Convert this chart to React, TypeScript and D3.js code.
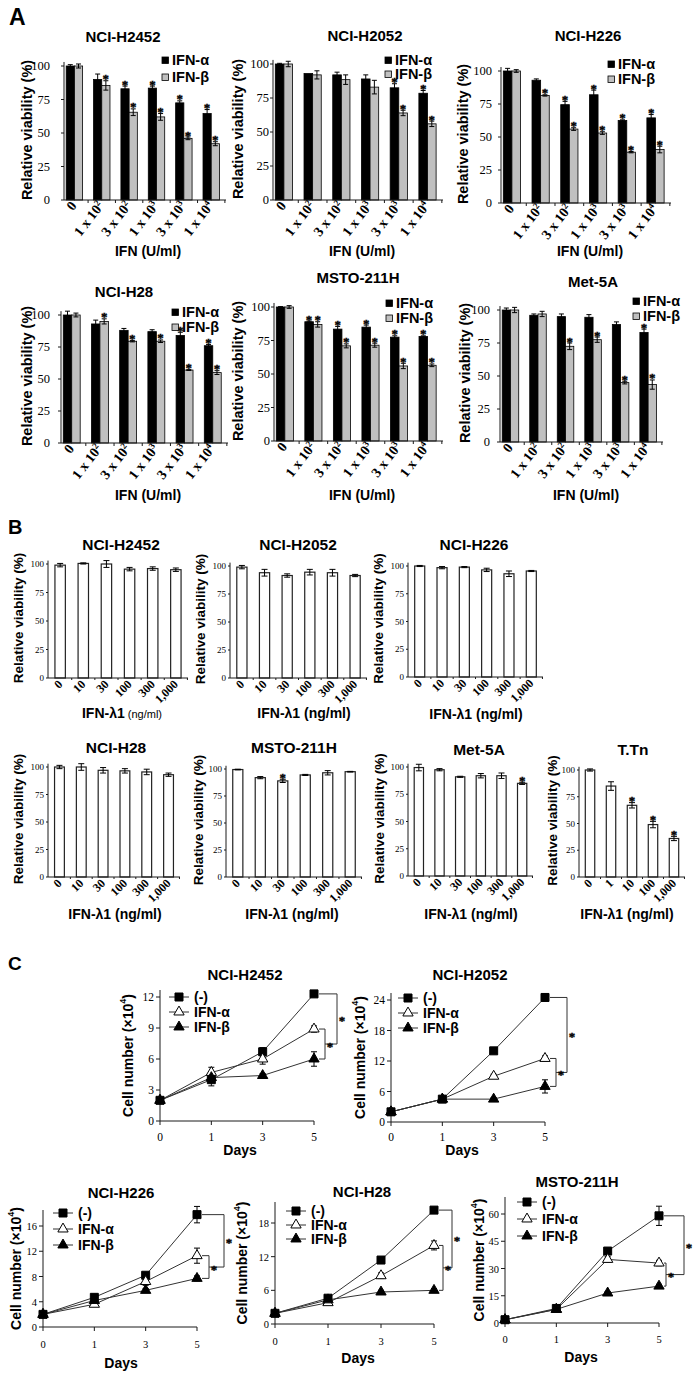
import React from "react";
import * as d3 from "d3";

const SANS = "'Liberation Sans', Arial, Helvetica, sans-serif";
const SERIF = "'Liberation Serif', 'Times New Roman', Times, serif";

/* ================= Panel A data ================= */
const doseBaseA = ["0", "1 x 10", "3 x 10", "1 x 10", "3 x 10", "1 x 10"];
const doseExpA = ["", "2", "2", "3", "3", "4"];
const viabilityTicks = [0, 25, 50, 75, 100];
const seriesNamesA = ["IFN-α", "IFN-β"];
const titlesA = ["NCI-H2452", "NCI-H2052", "NCI-H226", "NCI-H28", "MSTO-211H", "Met-5A"];

const aH2452Alpha = [100, 90, 83, 83.5, 72.5, 64.5];
const aH2452AlphaErr = [1, 4, 2, 1.5, 1.5, 3];
const aH2452AlphaSig = [0, 0, 1, 1, 1, 1];
const aH2452Beta = [100, 85.5, 65.5, 62, 46, 42];
const aH2452BetaErr = [1.5, 3.5, 2.5, 2.5, 1, 1.5];
const aH2452BetaSig = [0, 1, 1, 1, 1, 1];

const aH2052Alpha = [100, 93, 92, 89, 82.5, 78.5];
const aH2052AlphaErr = [0.5, 0, 2, 3, 3, 2];
const aH2052AlphaSig = [0, 0, 0, 0, 1, 1];
const aH2052Beta = [100, 92, 88.5, 83, 64, 56];
const aH2052BetaErr = [2, 3, 3.5, 5, 2, 2];
const aH2052BetaSig = [0, 0, 0, 0, 1, 1];

const aH226Alpha = [100, 93, 74.5, 82, 62.5, 64.5];
const aH226AlphaErr = [2, 1, 2.5, 3.5, 0.5, 2.5];
const aH226AlphaSig = [0, 0, 1, 1, 1, 1];
const aH226Beta = [100, 81.5, 56, 53, 38.5, 40.5];
const aH226BetaErr = [1, 0.5, 1, 1, 0.5, 2.5];
const aH226BetaSig = [0, 1, 1, 1, 1, 1];

const aH28Alpha = [100, 93, 88, 87, 84, 76];
const aH28AlphaErr = [3, 3, 1.5, 1.5, 2.5, 1];
const aH28AlphaSig = [0, 0, 0, 0, 1, 1];
const aH28Beta = [100, 95, 79.5, 79.5, 57, 55];
const aH28BetaErr = [1.5, 2, 0.5, 1, 0.3, 1.5];
const aH28BetaSig = [0, 1, 1, 1, 1, 1];

const aMstoAlpha = [100, 89, 83.5, 85, 77.5, 78];
const aMstoAlphaErr = [0.3, 0.5, 2, 1.5, 1, 0.5];
const aMstoAlphaSig = [0, 1, 1, 1, 1, 1];
const aMstoBeta = [100, 87, 71, 71.5, 56, 56.5];
const aMstoBetaErr = [1, 2, 1.5, 1.5, 2, 1];
const aMstoBetaSig = [0, 1, 1, 1, 1, 1];

const aMet5aAlpha = [100, 96, 95, 94.5, 89, 83];
const aMet5aAlphaErr = [1.5, 1, 2, 2, 2, 2.5];
const aMet5aAlphaSig = [0, 0, 0, 0, 0, 1];
const aMet5aBeta = [100, 97, 72.5, 77.5, 45, 43.5];
const aMet5aBetaErr = [2, 2, 2.5, 2, 1, 3.5];
const aMet5aBetaSig = [0, 0, 1, 1, 1, 1];

/* ================= Panel B data ================= */
const lambdaDoses = ["0", "10", "30", "100", "300", "1,000"];
const lambdaDosesTTn = ["0", "1", "10", "100", "1,000"];
const titlesB = ["NCI-H2452", "NCI-H2052", "NCI-H226", "NCI-H28", "MSTO-211H", "Met-5A", "T.Tn"];

const bH2452 = [99, 100.5, 100, 95.5, 96, 95];
const bH2452Err = [1.5, 0.5, 3, 1.5, 1.5, 1.5];
const bH2452Sig = [0, 0, 0, 0, 0, 0];
const bH2052 = [99, 94, 91.5, 94.5, 94, 91.5];
const bH2052Err = [1.5, 3, 1.5, 2.5, 3, 1];
const bH2052Sig = [0, 0, 0, 0, 0, 0];
const bH226 = [100, 98.5, 99, 96.5, 93, 95.5];
const bH226Err = [0.5, 1, 0.5, 1.5, 2.5, 0.5];
const bH226Sig = [0, 0, 0, 0, 0, 0];
const bH28 = [100, 100, 97, 96.5, 95.5, 93];
const bH28Err = [1.5, 3, 2.5, 2, 2.5, 1.5];
const bH28Sig = [0, 0, 0, 0, 0, 0];
const bMsto = [99.5, 92, 89, 94.5, 96.5, 97.5];
const bMstoErr = [0.3, 1, 1.5, 0.5, 2, 0.3];
const bMstoSig = [0, 0, 1, 0, 0, 0];
const bMet5a = [99.5, 97.5, 91, 92, 92, 85];
const bMet5aErr = [3, 1, 0.5, 2, 2.5, 1];
const bMet5aSig = [0, 0, 0, 0, 0, 1];
const bTTn = [100, 85, 67, 49, 36];
const bTTnErr = [1, 4, 2.5, 3, 2];
const bTTnSig = [0, 0, 1, 1, 1];

/* ================= Panel C data ================= */
const days = [0, 1, 3, 5];
const growthNames = ["(-)", "IFN-α", "IFN-β"];
const titlesC = ["NCI-H2452", "NCI-H2052", "NCI-H226", "NCI-H28", "MSTO-211H"];

const cH2452Ticks = [0, 3, 6, 9, 12];
const cH2452Ctrl = [2, 4, 6.7, 12.3];
const cH2452CtrlErr = [0.2, 0.6, 0.4, 0.2];
const cH2452Alpha = [2, 4.7, 6, 8.9];
const cH2452AlphaErr = [0.1, 0.5, 0.5, 0.3];
const cH2452Beta = [2, 4.2, 4.4, 6];
const cH2452BetaErr = [0.1, 0.3, 0.2, 0.7];

const cH2052Ticks = [0, 6, 12, 18, 24];
const cH2052Ctrl = [2, 4.5, 14, 24.5];
const cH2052CtrlErr = [0.3, 0.4, 0.4, 0.7];
const cH2052Alpha = [2, 4.5, 9, 12.5];
const cH2052AlphaErr = [0.1, 0.3, 0.4, 0.5];
const cH2052Beta = [2, 4.5, 4.5, 7];
const cH2052BetaErr = [0.1, 0.3, 0.3, 1.3];

const cH226Ticks = [0, 4, 8, 12, 16];
const cH226Ctrl = [2, 4.7, 8.2, 17.8];
const cH226CtrlErr = [0.3, 0.5, 0.4, 1.3];
const cH226Alpha = [2, 3.6, 7.2, 11.3];
const cH226AlphaErr = [0.2, 0.3, 0.6, 1.2];
const cH226Beta = [2, 4.2, 5.8, 7.7];
const cH226BetaErr = [0.1, 0.2, 0.3, 0.4];

const cH28Ticks = [0, 6, 12, 18];
const cH28Ctrl = [1.9, 4.6, 11.4, 20.3];
const cH28CtrlErr = [0.3, 0.4, 0.3, 0.3];
const cH28Alpha = [1.9, 3.8, 8.6, 14];
const cH28AlphaErr = [0.1, 0.3, 0.5, 0.8];
const cH28Beta = [1.9, 4.3, 5.7, 6];
const cH28BetaErr = [0.1, 0.2, 0.3, 0.3];

const cMstoTicks = [0, 15, 30, 45, 60];
const cMstoCtrl = [1.8, 8, 39.6, 59];
const cMstoCtrlErr = [0.3, 0.8, 1.5, 5.3];
const cMstoAlpha = [1.8, 7.5, 35, 33];
const cMstoAlphaErr = [0.2, 0.5, 1.5, 1.5];
const cMstoBeta = [1.8, 7.5, 16.5, 20.3];
const cMstoBetaErr = [0.2, 0.5, 0.8, 1];

/* ================= Layout (pixel positions, not data) ================= */
const layoutA = [
  { ax: 64, xEnd: 226, y0: 200, y100: 66, tlo: 14, tx: 123, ty: 42, ylx: 27, xlx: 148, xly: 256, lgx: 162, lgy: 57, lgdy: 17 },
  { ax: 273, xEnd: 443, y0: 200, y100: 64, tlo: 4, tx: 365, ty: 41, ylx: 238, xlx: 362, xly: 256, lgx: 385, lgy: 57, lgdy: 14 },
  { ax: 501, xEnd: 671, y0: 203, y100: 71, tlo: 9, tx: 588, ty: 41, ylx: 463, xlx: 590, xly: 256, lgx: 608, lgy: 61, lgdy: 15 },
  { ax: 61, xEnd: 228, y0: 443, y100: 315, tlo: 11, tx: 124, ty: 297, ylx: 27, xlx: 148, xly: 500, lgx: 172, lgy: 309, lgdy: 15 },
  { ax: 274, xEnd: 443, y0: 441, y100: 307, tlo: 4, tx: 358, ty: 283, ylx: 238, xlx: 362, xly: 500, lgx: 386, lgy: 300, lgdy: 15 },
  { ax: 500, xEnd: 663, y0: 442, y100: 310, tlo: 10, tx: 593, ty: 287, ylx: 465, xlx: 586, xly: 500, lgx: 633, lgy: 298, lgdy: 15 },
];

const layoutB = [
  { ax: 48, xEnd: 188, y0: 678, y100: 564, tx: 121, ty: 550, ylx: 18, xlx: 122, xly: 718 },
  { ax: 230, xEnd: 367, y0: 678, y100: 566, tx: 298, ty: 550, ylx: 200, xlx: 304, xly: 718 },
  { ax: 408, xEnd: 543, y0: 677, y100: 566, tx: 474, ty: 550, ylx: 378, xlx: 476, xly: 719 },
  { ax: 48, xEnd: 180, y0: 877, y100: 767, tx: 116, ty: 753, ylx: 18, xlx: 115, xly: 919 },
  { ax: 226, xEnd: 362, y0: 877, y100: 769, tx: 294, ty: 753, ylx: 198, xlx: 292, xly: 919 },
  { ax: 408, xEnd: 533, y0: 876, y100: 767, tx: 479, ty: 755, ylx: 379, xlx: 471, xly: 919 },
  { ax: 579, xEnd: 685, y0: 877, y100: 770, tx: 633, ty: 755, ylx: 552, xlx: 627, xly: 919 },
];

const layoutC = [
  { ax: 160, xEnd: 314, y0: 1121, yMax: 997, yTop: 990, tx: 245, ty: 980, ylx: 128, tfs: 11.5, tickY: 1141, daysX: 240, daysY: 1155, lgx: 179, lgy: 997, lgdy: 15, d1: 11, d2: 23 },
  { ax: 391, xEnd: 545, y0: 1122, yMax: 1000, yTop: 993, tx: 470, ty: 980, ylx: 360, tfs: 11.5, tickY: 1141, daysX: 462, daysY: 1155, lgx: 408, lgy: 998, lgdy: 15, d1: 11, d2: 22 },
  { ax: 43, xEnd: 197, y0: 1327, yMax: 1226, yTop: 1210, tx: 121, ty: 1198, ylx: 16, tfs: 10.5, tickY: 1348, daysX: 121, daysY: 1368, lgx: 63, lgy: 1213, lgdy: 16, d1: 12, d2: 27 },
  { ax: 275, xEnd: 434, y0: 1324, yMax: 1223, yTop: 1202, tx: 362, ty: 1197, ylx: 242, tfs: 10.5, tickY: 1345, daysX: 358, daysY: 1363, lgx: 296, lgy: 1211, lgdy: 14, d1: 9, d2: 18 },
  { ax: 505, xEnd: 659, y0: 1323, yMax: 1214, yTop: 1197, tx: 577, ty: 1187, ylx: 479, tfs: 10.5, tickY: 1343, daysX: 581, daysY: 1362, lgx: 527, lgy: 1202, lgdy: 17, d1: 7, d2: 25 },
];

/* ================= Panel assembly ================= */
const panelsA = [
  { a: aH2452Alpha, aE: aH2452AlphaErr, aS: aH2452AlphaSig, b: aH2452Beta, bE: aH2452BetaErr, bS: aH2452BetaSig },
  { a: aH2052Alpha, aE: aH2052AlphaErr, aS: aH2052AlphaSig, b: aH2052Beta, bE: aH2052BetaErr, bS: aH2052BetaSig },
  { a: aH226Alpha, aE: aH226AlphaErr, aS: aH226AlphaSig, b: aH226Beta, bE: aH226BetaErr, bS: aH226BetaSig },
  { a: aH28Alpha, aE: aH28AlphaErr, aS: aH28AlphaSig, b: aH28Beta, bE: aH28BetaErr, bS: aH28BetaSig },
  { a: aMstoAlpha, aE: aMstoAlphaErr, aS: aMstoAlphaSig, b: aMstoBeta, bE: aMstoBetaErr, bS: aMstoBetaSig },
  { a: aMet5aAlpha, aE: aMet5aAlphaErr, aS: aMet5aAlphaSig, b: aMet5aBeta, bE: aMet5aBetaErr, bS: aMet5aBetaSig },
];

const panelsB = [
  { v: bH2452, e: bH2452Err, s: bH2452Sig, labels: lambdaDoses },
  { v: bH2052, e: bH2052Err, s: bH2052Sig, labels: lambdaDoses },
  { v: bH226, e: bH226Err, s: bH226Sig, labels: lambdaDoses },
  { v: bH28, e: bH28Err, s: bH28Sig, labels: lambdaDoses },
  { v: bMsto, e: bMstoErr, s: bMstoSig, labels: lambdaDoses },
  { v: bMet5a, e: bMet5aErr, s: bMet5aSig, labels: lambdaDoses },
  { v: bTTn, e: bTTnErr, s: bTTnSig, labels: lambdaDosesTTn },
];

const panelsC = [
  { ticks: cH2452Ticks, series: [[cH2452Ctrl, cH2452CtrlErr], [cH2452Alpha, cH2452AlphaErr], [cH2452Beta, cH2452BetaErr]] },
  { ticks: cH2052Ticks, series: [[cH2052Ctrl, cH2052CtrlErr], [cH2052Alpha, cH2052AlphaErr], [cH2052Beta, cH2052BetaErr]] },
  { ticks: cH226Ticks, series: [[cH226Ctrl, cH226CtrlErr], [cH226Alpha, cH226AlphaErr], [cH226Beta, cH226BetaErr]] },
  { ticks: cH28Ticks, series: [[cH28Ctrl, cH28CtrlErr], [cH28Alpha, cH28AlphaErr], [cH28Beta, cH28BetaErr]] },
  { ticks: cMstoTicks, series: [[cMstoCtrl, cMstoCtrlErr], [cMstoAlpha, cMstoAlphaErr], [cMstoBeta, cMstoBetaErr]] },
];

const AX = "#1a1a1a";

function Star({ x, y, size = 13, anchor = "middle" }: any) {
  return (
    <text x={x} y={y} textAnchor={anchor} fontFamily={SERIF} fontWeight="bold" fontSize={size} fill="#000" stroke="#000" strokeWidth={0.35}>
      *
    </text>
  );
}

function ErrorBar({ x, yLo, yHi, w = 2.5 }: any) {
  return (
    <g stroke="#000" strokeWidth={1}>
      <line x1={x} x2={x} y1={yLo} y2={yHi} />
      <line x1={x - w} x2={x + w} y1={yLo} y2={yLo} />
      <line x1={x - w} x2={x + w} y1={yHi} y2={yHi} />
    </g>
  );
}

function YLabel({ x, y, text, size = 14.5 }: any) {
  return (
    <text transform={`translate(${x},${y}) rotate(-90)`} textAnchor="middle" dominantBaseline="central" fontFamily={SANS} fontWeight="bold" fontSize={size}>
      {text}
    </text>
  );
}

function GroupedBars({ L, p, title }: any) {
  const n = doseBaseA.length;
  const y = d3.scaleLinear().domain([0, 100]).range([L.y0, L.y100]);
  const x: any = d3.scaleBand<number>().domain(d3.range(n)).range([L.ax, L.xEnd]).paddingInner(0.4).paddingOuter(0.16).align(0.25);
  const bw = x.bandwidth() / 2;
  const series = [
    { v: p.a, e: p.aE, s: p.aS, fill: "#000" },
    { v: p.b, e: p.bE, s: p.bS, fill: "#c0c0c0" },
  ];
  return (
    <g>
      <text x={L.tx} y={L.ty} textAnchor="middle" fontFamily={SANS} fontWeight="bold" fontSize={15}>
        {title}
      </text>
      {series.map((s, si) =>
        s.v.map((v: number, i: number) => {
          const bx = x(i) + si * bw;
          return <rect key={`r${si}-${i}`} x={bx} y={y(v)} width={bw} height={L.y0 - y(v)} fill={s.fill} stroke="#000" strokeWidth={0.8} />;
        })
      )}
      {series.map((s, si) =>
        s.v.map((v: number, i: number) => {
          const cx = x(i) + si * bw + bw / 2;
          const top = y(v + s.e[i]);
          return (
            <g key={`e${si}-${i}`}>
              {s.e[i] > 0 && <ErrorBar x={cx} yLo={y(v - s.e[i])} yHi={top} />}
              {s.s[i] ? <Star x={cx} y={top + 2.5} /> : null}
            </g>
          );
        })
      )}
      <line x1={L.ax} x2={L.ax} y1={L.y0} y2={y(103)} stroke={AX} />
      {viabilityTicks.map((t) => (
        <g key={`t${t}`}>
          <line x1={L.ax - 3} x2={L.ax} y1={y(t)} y2={y(t)} stroke={AX} />
          <text x={L.ax - L.tlo} y={y(t) + 4} textAnchor="end" fontFamily={SERIF} fontSize={12.5}>
            {t}
          </text>
        </g>
      ))}
      <line x1={L.ax} x2={L.xEnd} y1={L.y0} y2={L.y0} stroke={AX} />
      {d3.range(n).map((i) => {
        const tx = x(i) + x.bandwidth() + x.step() * x.paddingInner() * 0.5;
        return <line key={`m${i}`} x1={tx} x2={tx} y1={L.y0} y2={L.y0 + 3} stroke={AX} />;
      })}
      {d3.range(n).map((i) => {
        const cx = x(i) + bw;
        return (
          <text key={`xl${i}`} transform={`translate(${cx + 3},${L.y0 + 6}) rotate(-52)`} textAnchor="end" fontFamily={SERIF} fontWeight="bold" fontSize={14}>
            {doseBaseA[i]}
            {doseExpA[i] ? (
              <tspan dy={-5} fontSize={9}>
                {doseExpA[i]}
              </tspan>
            ) : null}
          </text>
        );
      })}
      <YLabel x={L.ylx} y={(L.y0 + L.y100) / 2 - 3} text="Relative viability (%)" />
      <text x={L.xlx} y={L.xly} textAnchor="middle" fontFamily={SANS} fontWeight="bold" fontSize={14}>
        IFN (U/ml)
      </text>
      {seriesNamesA.map((nm, k) => (
        <g key={`lg${k}`}>
          <rect x={L.lgx} y={L.lgy + k * L.lgdy} width={6.5} height={6.5} fill={series[k].fill} stroke="#000" strokeWidth={0.8} />
          <text x={L.lgx + 10} y={L.lgy + k * L.lgdy + 8} fontFamily={SANS} fontWeight="bold" fontSize={14.5}>
            {nm}
          </text>
        </g>
      ))}
    </g>
  );
}

function SingleBars({ L, p, title, smallUnit }: any) {
  const n = p.v.length;
  const y = d3.scaleLinear().domain([0, 100]).range([L.y0, L.y100]);
  const x: any = d3.scaleBand<number>().domain(d3.range(n)).range([L.ax, L.xEnd]).paddingInner(0.55).paddingOuter(0.3);
  const bw = x.bandwidth();
  return (
    <g>
      <text x={L.tx} y={L.ty} textAnchor="middle" fontFamily={SANS} fontWeight="bold" fontSize={15.5}>
        {title}
      </text>
      {p.v.map((v: number, i: number) => (
        <rect key={`r${i}`} x={x(i)} y={y(v)} width={bw} height={L.y0 - y(v)} fill="#fff" stroke="#222" strokeWidth={1.2} />
      ))}
      {p.v.map((v: number, i: number) => {
        const cx = x(i) + bw / 2;
        const top = y(v + p.e[i]);
        return (
          <g key={`e${i}`}>
            <ErrorBar x={cx} yLo={y(v - p.e[i])} yHi={top} w={3} />
            {p.s[i] ? <Star x={cx} y={top + 2.5} /> : null}
          </g>
        );
      })}
      <line x1={L.ax} x2={L.ax} y1={L.y0} y2={y(103)} stroke={AX} />
      {viabilityTicks.map((t) => (
        <g key={`t${t}`}>
          <line x1={L.ax - 2} x2={L.ax} y1={y(t)} y2={y(t)} stroke={AX} />
          <text x={L.ax - 4} y={y(t) + 3} textAnchor="end" fontFamily={SERIF} fontSize={9}>
            {t}
          </text>
        </g>
      ))}
      <line x1={L.ax} x2={L.xEnd} y1={L.y0} y2={L.y0} stroke={AX} />
      {d3.range(n).map((i) => {
        const tx = x(i) + bw + x.step() * x.paddingInner() * 0.5;
        return <line key={`m${i}`} x1={tx} x2={tx} y1={L.y0} y2={L.y0 + 2} stroke={AX} />;
      })}
      {p.labels.map((lb: string, i: number) => {
        const cx = x(i) + bw / 2;
        return (
          <text key={`xl${i}`} transform={`translate(${cx + 3},${L.y0 + 7}) rotate(-45)`} textAnchor="end" fontFamily={SERIF} fontWeight="bold" fontSize={12}>
            {lb}
          </text>
        );
      })}
      <YLabel x={L.ylx} y={(L.y0 + L.y100) / 2 - 3} text="Relative viability (%)" size={13.5} />
      <text x={L.xlx} y={L.xly} textAnchor="middle" fontFamily={SANS} fontWeight="bold" fontSize={14}>
        IFN-λ1
        {smallUnit ? (
          <tspan fontSize={11} fontWeight="normal">
            {" (ng/ml)"}
          </tspan>
        ) : (
          " (ng/ml)"
        )}
      </text>
    </g>
  );
}

function GrowthChart({ L, p, title }: any) {
  const x: any = d3.scalePoint<number>().domain(days).range([L.ax, L.xEnd]);
  const maxTick = p.ticks[p.ticks.length - 1];
  const y = d3.scaleLinear().domain([0, maxTick]).range([L.y0, L.yMax]);
  const line = d3
    .line<number>()
    .x((_d, i) => x(days[i]))
    .y((d) => y(d));
  const symbols = [
    d3.symbol().type(d3.symbolSquare).size(64)(),
    d3.symbol().type(d3.symbolTriangle).size(46)(),
    d3.symbol().type(d3.symbolTriangle).size(46)(),
  ];
  const fills = ["#000", "#fff", "#000"];
  const last = days.length - 1;
  const x5 = x(days[last]);
  const yN = y(p.series[0][0][last]);
  const yA = y(p.series[1][0][last]);
  const yB = y(p.series[2][0][last]);
  const mid = (yA + yB) / 2;
  const g0 = x5 + 5;
  return (
    <g>
      <text x={L.tx} y={L.ty} textAnchor="middle" fontFamily={SANS} fontWeight="bold" fontSize={15}>
        {title}
      </text>
      <line x1={L.ax} x2={L.ax} y1={L.y0} y2={L.yTop} stroke={AX} />
      {p.ticks.map((t: number) => (
        <g key={`t${t}`}>
          <line x1={L.ax - 4} x2={L.ax} y1={y(t)} y2={y(t)} stroke={AX} />
          <text x={L.ax - 6} y={y(t) + 4} textAnchor="end" fontFamily={SERIF} fontSize={L.tfs}>
            {t}
          </text>
        </g>
      ))}
      <line x1={L.ax} x2={L.xEnd} y1={L.y0} y2={L.y0} stroke={AX} />
      {days.map((d) => (
        <g key={`d${d}`}>
          <line x1={x(d)} x2={x(d)} y1={L.y0} y2={L.y0 + 4} stroke={AX} />
          <text x={x(d)} y={L.tickY} textAnchor="middle" fontFamily={SERIF} fontSize={L.tfs}>
            {d}
          </text>
        </g>
      ))}
      {p.series.map((s: any, k: number) => (
        <path key={`l${k}`} d={line(s[0]) as string} fill="none" stroke="#333" strokeWidth={1} />
      ))}
      {p.series.map((s: any, k: number) =>
        s[0].map((v: number, i: number) => (
          <ErrorBar key={`e${k}-${i}`} x={x(days[i])} yLo={y(v - s[1][i])} yHi={y(v + s[1][i])} w={3} />
        ))
      )}
      {p.series.map((s: any, k: number) =>
        s[0].map((v: number, i: number) => (
          <path key={`m${k}-${i}`} d={symbols[k] as string} transform={`translate(${x(days[i])},${y(v)})`} fill={fills[k]} stroke="#000" strokeWidth={1} />
        ))
      )}
      <path d={`M${g0},${yA}H${x5 + L.d1}V${yB}H${g0}`} fill="none" stroke="#333" strokeWidth={1} />
      <path d={`M${g0},${yN}H${x5 + L.d2}V${mid}H${x5 + L.d1}`} fill="none" stroke="#333" strokeWidth={1} />
      <Star x={x5 + L.d1 + 5} y={mid + 6.5} size={13} />
      <Star x={x5 + L.d2 + 5} y={(yN + mid) / 2 + 6.5} size={13} />
      {growthNames.map((nm, k) => {
        const ly = L.lgy + k * L.lgdy;
        return (
          <g key={`lg${k}`}>
            <line x1={L.lgx - 10} x2={L.lgx + 10} y1={ly} y2={ly} stroke="#333" />
            <path d={symbols[k] as string} transform={`translate(${L.lgx},${ly})`} fill={fills[k]} stroke="#000" />
            <text x={L.lgx + 15} y={ly + 5} fontFamily={SANS} fontWeight="bold" fontSize={14}>
              {nm}
            </text>
          </g>
        );
      })}
      <text transform={`translate(${L.ylx},${(L.y0 + L.yTop) / 2}) rotate(-90)`} textAnchor="middle" dominantBaseline="central" fontFamily={SANS} fontWeight="bold" fontSize={14}>
        Cell number (×10
        <tspan dy={-5} fontSize={9}>
          4
        </tspan>
        <tspan dy={5}>)</tspan>
      </text>
      <text x={L.daysX} y={L.daysY} textAnchor="middle" fontFamily={SANS} fontWeight="bold" fontSize={14}>
        Days
      </text>
    </g>
  );
}

export default function App() {
  return (
    <div style={{ position: "absolute", left: 0, top: 0 }}>
      <svg width={699} height={1378} viewBox="0 0 699 1378" style={{ display: "block" }}>
        <rect x={0} y={0} width={699} height={1378} fill="#fff" />
        <text x={9} y={25} fontFamily={SANS} fontWeight="bold" fontSize={23}>
          A
        </text>
        <text x={8} y={534} fontFamily={SANS} fontWeight="bold" fontSize={20}>
          B
        </text>
        <text x={8} y={970} fontFamily={SANS} fontWeight="bold" fontSize={19}>
          C
        </text>
        {panelsA.map((p, i) => (
          <GroupedBars key={`A${i}`} L={layoutA[i]} p={p} title={titlesA[i]} />
        ))}
        {panelsB.map((p, i) => (
          <SingleBars key={`B${i}`} L={layoutB[i]} p={p} title={titlesB[i]} smallUnit={i === 0} />
        ))}
        {panelsC.map((p, i) => (
          <GrowthChart key={`C${i}`} L={layoutC[i]} p={p} title={titlesC[i]} />
        ))}
      </svg>
    </div>
  );
}
